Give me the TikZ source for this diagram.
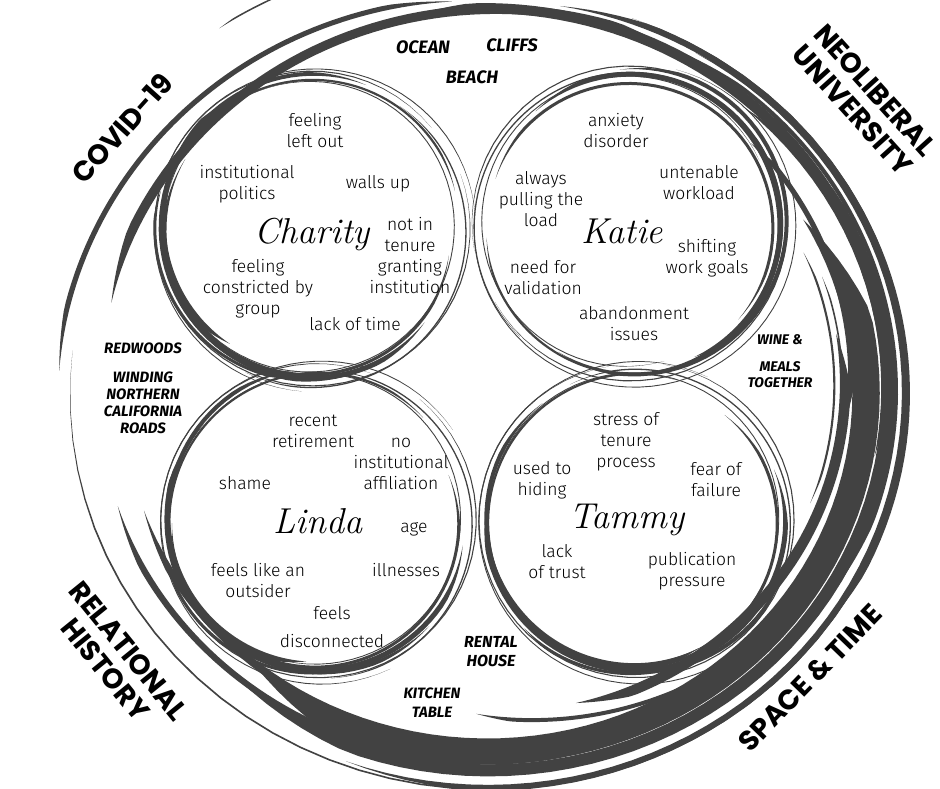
\documentclass[tikz,border=0pt]{standalone}
\usepackage{fontspec}
\newfontfamily\bodyf{Fira Sans Light}
\newfontfamily\labf{Fira Sans}
\newfontfamily\bigf{Poppins}
\newfontfamily\namef{Latin Modern Roman}
\definecolor{ink}{HTML}{424242}
% brush stroke: cx cy r1 r2 a1 a2 width k(=rx/ry)
\newcommand\brush[8]{%
  \pgfmathsetmacro\bA{#5}\pgfmathsetmacro\bB{#6}%
  \pgfmathsetmacro\bR{#3}%
  \pgfmathsetmacro\bF{180/(\bB-(\bA))}%
  \pgfmathsetmacro\bG{((#4)-(\bR))/(\bB-(\bA))}%
  \pgfmathsetmacro\bX{#1}\pgfmathsetmacro\bY{#2}%
  \fill[ink] plot[domain=\bA:\bB, samples=60, variable=\t]
    ({\bX+#8*(\bR+\bG*(\t-(\bA))+#7*min(1,3*sin(\bF*(\t-(\bA)))))*cos(\t)},
     {\bY+(\bR+\bG*(\t-(\bA))+#7*min(1,3*sin(\bF*(\t-(\bA)))))*sin(\t)})
    -- plot[domain=\bA:\bB, samples=60, variable=\t]
    ({\bX+#8*(\bR+\bG*(\bB-\t))*cos(\bA+\bB-\t)},
     {\bY+(\bR+\bG*(\bB-\t))*sin(\bA+\bB-\t)}) -- cycle;}
% ring of strokes round a person: cx cy phi(thick side)
\newcommand\ring[3]{%
  \brush{#1}{#2}{147}{149}{#3-115}{#3+95}{5}{1}
  \brush{#1+3}{#2-2}{153}{150}{#3-80}{#3+135}{4}{1}
  \brush{#1-2}{#2+3}{141}{144}{#3-145}{#3+55}{3}{1}
  \brush{#1+2}{#2+1}{150}{146}{#3+40}{#3+190}{2.2}{1}
  \brush{#1}{#2}{158}{156}{#3-175}{#3+165}{1.1}{1}
  \brush{#1-3}{#2-2}{144}{146}{#3+90}{#3+350}{0.9}{1}
  \brush{#1+4}{#2+2}{162}{160}{#3-60}{#3+200}{0.9}{1}
  \brush{#1-1}{#2+4}{154}{155}{#3+150}{#3+320}{1.3}{1}
  \brush{#1+1}{#2-3}{145}{150}{#3-30}{#3+80}{5}{1}
  \brush{#1-4}{#2+1}{150}{152}{#3-60}{#3+40}{3}{1}}
\tikzset{
  body/.style={font=\bodyf\fontsize{17.5}{21}\selectfont, align=center, inner sep=0pt},
  pname/.style={font=\namef\itshape\fontsize{36}{40}\selectfont, inner sep=0pt},
  place/.style 2 args={font=\labf\bfseries\itshape\fontsize{#1}{#2}\selectfont, align=center, inner sep=0pt},
  big/.style={font=\bigf\bfseries\fontsize{28}{30}\selectfont, align=center, inner sep=0pt}
}
\begin{document}
\begin{tikzpicture}[x=1pt,y=-1pt]
\useasboundingbox (0,0) rectangle (940,788);
\clip (0,0) rectangle (940,788);
% ---- outer swirl ----
% upper-left and top
\brush{488}{392}{368}{382}{-166}{-60}{9}{1.055}
\brush{488}{392}{407}{392}{-177}{-95}{5}{1.055}
\brush{488}{392}{444}{440}{-125}{-105}{1.5}{1.055}
% top into right side
\brush{488}{392}{380}{372}{-105}{10}{10}{1.055}
\brush{488}{392}{392}{395}{-80}{40}{6}{1.055}
\brush{488}{392}{386}{384}{-62}{30}{4}{1.055}
\brush{488}{392}{352}{340}{-45}{5}{5}{1.055}
% main thick band right -> bottom -> lower left
\brush{488}{392}{345}{347}{-30}{132}{26}{1.055}
\brush{488}{392}{348}{347}{60}{160}{7}{1.055}
\brush{488}{392}{366}{369}{70}{162}{6}{1.055}
\brush{488}{392}{374}{372}{-50}{130}{12}{1.055}
\brush{488}{392}{392}{393}{-60}{110}{6}{1.055}
\brush{488}{392}{398}{396}{-70}{186}{1.6}{1.055}
\brush{488}{392}{335}{322}{-10}{75}{10}{1.055}
\brush{488}{392}{360}{322}{40}{92}{4}{1.055}
\brush{488}{392}{330}{325}{-25}{20}{2}{1.055}
\brush{488}{392}{337}{334}{-20}{15}{1.5}{1.055}
% ---- person rings ----
\ring{312}{228}{155}
\ring{630}{224}{-15}
\ring{318}{520}{125}
\ring{636}{520}{95}
% ---- outer labels ----
\node[big, rotate=48] (covid) at (122,128) {COVID-19};
\node[big, rotate=-48] (neolib) at (864,100) {NEOLIBERAL\\UNIVERSITY};
\node[big, rotate=-51] (relhist) at (117,660) {RELATIONAL\\HISTORY};
\node[big, rotate=46] (spacetime) at (810,678) {SPACE \& TIME};
% ---- place labels ----
\node[place={18}{21}] (ocean) at (423,47) {OCEAN};
\node[place={18}{21}] (cliffs) at (512,45) {CLIFFS};
\node[place={18}{21}] (beach) at (472,77) {BEACH};
\node[place={15}{17}] (redwoods) at (143,348) {REDWOODS};
\node[place={15}{17}] (roads) at (143,403) {WINDING\\NORTHERN\\CALIFORNIA\\ROADS};
\node[place={14}{16}] (wine) at (780,340) {WINE \&};
\node[place={14}{16}] (meals) at (780,375) {MEALS\\TOGETHER};
\node[place={16}{19}] (rental) at (491,652) {RENTAL\\HOUSE};
\node[place={15}{19}] (kitchen) at (432,703) {KITCHEN\\TABLE};
% ---- Charity ----
\node[pname] (charity) at (312,234) {Charity};
\node[body] (c1) at (315,131) {feeling\\left out};
\node[body] (c2) at (247,184) {institutional\\politics};
\node[body] (c3) at (378,184) {walls up};
\node[body] (c4) at (410,256) {not in\\tenure\\granting\\institution};
\node[body] (c5) at (258,289) {feeling\\constricted by\\group};
\node[body] (c6) at (355,324) {lack of time};
% ---- Katie ----
\node[pname] (katie) at (622,231) {Katie};
\node[body] (k1) at (616,131) {anxiety\\disorder};
\node[body] (k2) at (541,199) {always\\pulling the\\load};
\node[body] (k3) at (699,183) {untenable\\workload};
\node[body] (k4) at (707,258) {shifting\\work goals};
\node[body] (k5) at (543,278) {need for\\validation};
\node[body] (k6) at (634,324) {abandonment\\issues};
% ---- Linda ----
\node[pname] (linda) at (318,521) {Linda};
\node[body] (l1) at (313,431) {recent\\retirement};
\node[body] (l2) at (401,464) {no\\institutional\\affiliation};
\node[body] (l3) at (245,483) {shame};
\node[body] (l4) at (414,529) {age};
\node[body] (l5) at (258,580) {feels like an\\outsider};
\node[body] (l6) at (406,570) {illnesses};
\node[body] (l7) at (332,613) {feels};
\node[body] (l8) at (332,641) {disconnected};
% ---- Tammy ----
\node[pname] (tammy) at (627,520) {Tammy};
\node[body] (t1) at (626,442) {stress of\\tenure\\process};
\node[body] (t2) at (542,480) {used to\\hiding};
\node[body] (t3) at (716,480) {fear of\\failure};
\node[body] (t4) at (557,562) {lack\\of trust};
\node[body] (t5) at (692,571) {publication\\pressure};
\end{tikzpicture}
\end{document}
